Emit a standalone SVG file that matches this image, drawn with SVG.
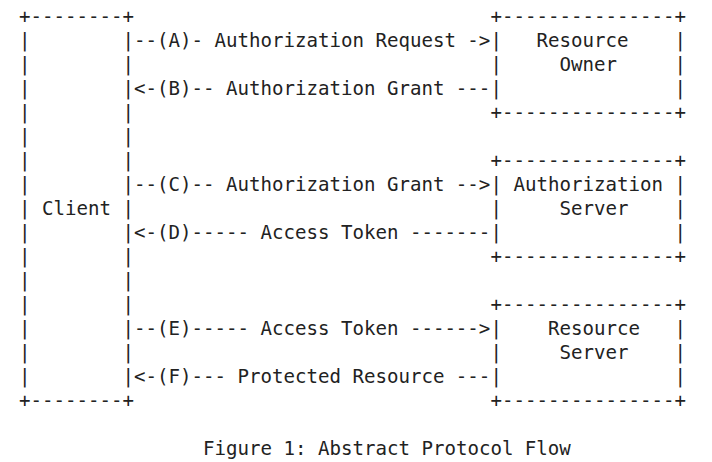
<svg xmlns="http://www.w3.org/2000/svg" width="712" height="462" viewBox="0 0 712 462" xml:space="preserve">
<style>
text { font-family: "DejaVu Sans Mono", "Liberation Mono", monospace; font-size: 19.1px; fill: #222; white-space: pre; }
</style>
<rect width="712" height="462" fill="#fff"/>
<g id="client" transform="translate(0,-1)">
<text x="19" y="24">+--------+</text>
<text x="19" y="48">|        |</text>
<text x="19" y="72">|        |</text>
<text x="19" y="96">|        |</text>
<text x="19" y="120">|        |</text>
<text x="19" y="144">|        |</text>
<text x="19" y="168">|        |</text>
<text x="19" y="192">|        |</text>
<text x="19" y="216">| Client |</text>
<text x="19" y="240">|        |</text>
<text x="19" y="264">|        |</text>
<text x="19" y="288">|        |</text>
<text x="19" y="312">|        |</text>
<text x="19" y="336">|        |</text>
<text x="19" y="360">|        |</text>
<text x="19" y="384">|        |</text>
<text x="19" y="408">+--------+</text>
</g>
<g id="resource-owner" transform="translate(0,-1)">
<text x="490.5" y="24">+---------------+</text>
<text x="490.5" y="48">|   Resource    |</text>
<text x="490.5" y="72">|     Owner     |</text>
<text x="490.5" y="96">|               |</text>
<text x="490.5" y="120">+---------------+</text>
</g>
<g id="authorization-server" transform="translate(0,-1)">
<text x="490.5" y="168">+---------------+</text>
<text x="490.5" y="192">| Authorization |</text>
<text x="490.5" y="216">|     Server    |</text>
<text x="490.5" y="240">|               |</text>
<text x="490.5" y="264">+---------------+</text>
</g>
<g id="resource-server" transform="translate(0,-1)">
<text x="490.5" y="312">+---------------+</text>
<text x="490.5" y="336">|    Resource   |</text>
<text x="490.5" y="360">|     Server    |</text>
<text x="490.5" y="384">|               |</text>
<text x="490.5" y="408">+---------------+</text>
</g>
<g id="connectors" transform="translate(0,-1)">
<text x="134" y="48">--(A)- Authorization Request -&gt;</text>
<text x="134" y="96">&lt;-(B)-- Authorization Grant ---</text>
<text x="134" y="192">--(C)-- Authorization Grant --&gt;</text>
<text x="134" y="240">&lt;-(D)----- Access Token -------</text>
<text x="134" y="336">--(E)----- Access Token ------&gt;</text>
<text x="134" y="384">&lt;-(F)--- Protected Resource ---</text>
</g>
<g id="caption" transform="translate(0,-1)">
<text x="203" y="456">Figure 1: Abstract Protocol Flow</text>
</g>
</svg>
